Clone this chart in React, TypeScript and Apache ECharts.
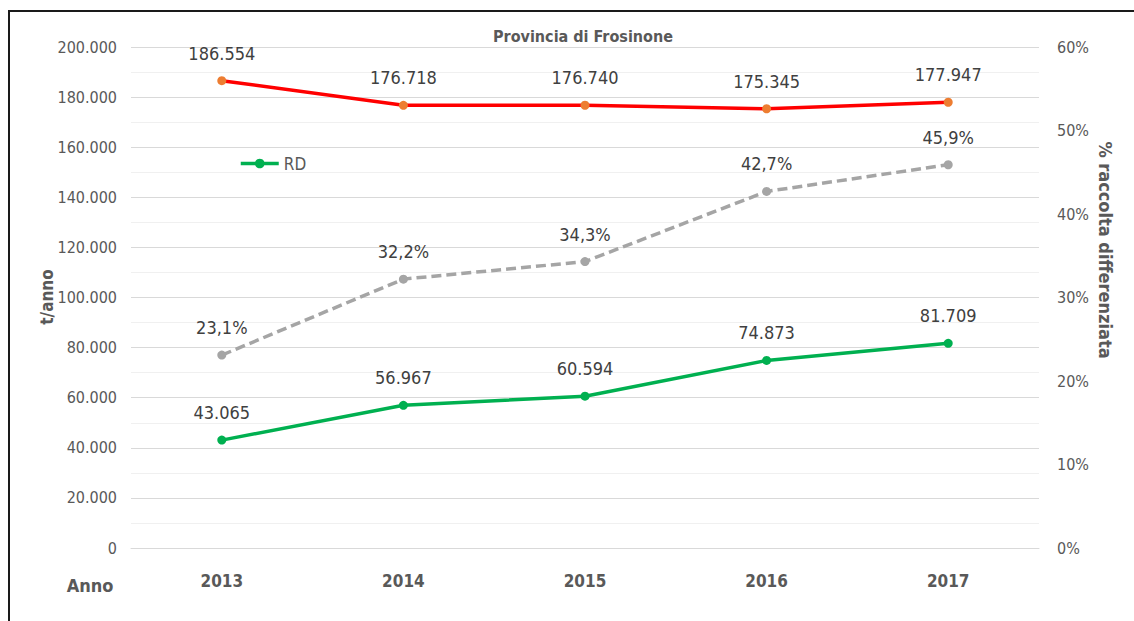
import React, { useEffect, useRef } from "react";
import * as echarts from "echarts";

const years = ["2013", "2014", "2015", "2016", "2017"];
const totale = [186554, 176718, 176740, 175345, 177947];
const rd = [43065, 56967, 60594, 74873, 81709];
const percRd = [23.1, 32.2, 34.3, 42.7, 45.9];

const FONT = "'DejaVu Sans Condensed', 'Liberation Sans Narrow', 'Open Sans', sans-serif";
const TXT = "#595959";
const LBL = "#404040";

const fmtThousands = (v: number) =>
  v === 0 ? "0" : String(Math.round(v)).replace(/\B(?=(\d{3})+(?!\d))/g, ".");

export default function App() {
  const ref = useRef<HTMLDivElement>(null);
  useEffect(() => {
    if (!ref.current) return;
    const chart = echarts.init(ref.current, null, { renderer: "svg" });
    chart.setOption({
      animation: false,
      backgroundColor: "#ffffff",
      title: {
        text: "Provincia di Frosinone",
        left: 578,
        top: 23,
        textAlign: "center",
        textStyle: { fontFamily: FONT, fontSize: 16, fontWeight: "bold", color: TXT },
      },
      legend: {
        data: ["RD"],
        left: 234,
        top: 150,
        itemWidth: 38,
        itemHeight: 12,
        lineStyle: { width: 3.5 },
        textStyle: { fontFamily: FONT, fontSize: 17, color: TXT },
      },
      grid: { left: 131, right: 95, top: 47, bottom: 73 },
      xAxis: {
        type: "category",
        data: years,
        boundaryGap: true,
        axisLine: { show: true, lineStyle: { color: "#d9d9d9", width: 1 } },
        axisTick: { show: false },
        axisLabel: {
          fontFamily: FONT,
          fontSize: 17,
          fontWeight: "bold",
          color: TXT,
          margin: 24,
        },
      },
      yAxis: [
        {
          type: "value",
          min: 0,
          max: 200000,
          interval: 20000,
          axisLine: { show: false },
          axisTick: { show: false },
          axisLabel: {
            fontFamily: FONT,
            fontSize: 16,
            color: TXT,
            margin: 14,
            formatter: (v: number) => fmtThousands(v),
          },
          splitLine: { show: true, lineStyle: { color: "#d9d9d9", width: 1 } },
          minorTick: { show: false, splitNumber: 2 },
          minorSplitLine: { show: true, lineStyle: { color: "#f0f0f0", width: 1 } },
        },
        {
          type: "value",
          min: 0,
          max: 60,
          interval: 10,
          position: "right",
          axisLine: { show: false },
          axisTick: { show: false },
          axisLabel: {
            fontFamily: FONT,
            fontSize: 16,
            color: TXT,
            margin: 18,
            formatter: (v: number) => v + "%",
          },
          splitLine: { show: false },
        },
      ],
      graphic: [
        {
          type: "rect",
          shape: { x: 9, y: 11, width: 1140, height: 640 },
          style: { fill: "none", stroke: "#1a1a1a", lineWidth: 2 },
          silent: true,
        },
        {
          type: "text",
          x: 47,
          y: 297,
          rotation: Math.PI / 2,
          style: {
            text: "t/anno",
            fontFamily: FONT,
            fontSize: 17,
            fontWeight: "bold",
            fill: TXT,
            textAlign: "center",
            textVerticalAlign: "middle",
          },
        },
        {
          type: "text",
          x: 90,
          y: 585,
          style: {
            text: "Anno",
            fontFamily: FONT,
            fontSize: 18,
            fontWeight: "bold",
            fill: TXT,
            textAlign: "center",
            textVerticalAlign: "middle",
          },
        },
        {
          type: "text",
          x: 1105,
          y: 250,
          rotation: -Math.PI / 2,
          style: {
            text: "% raccolta differenziata",
            fontFamily: FONT,
            fontSize: 18,
            fontWeight: "bold",
            fill: TXT,
            textAlign: "center",
            textVerticalAlign: "middle",
          },
        },
      ],
      series: [
        {
          name: "Totale",
          type: "line",
          data: totale,
          yAxisIndex: 0,
          symbol: "circle",
          symbolSize: 9,
          lineStyle: { color: "#ff0000", width: 3.5 },
          itemStyle: { color: "#ed7d31" },
          label: {
            show: true,
            position: "top",
            distance: 14,
            fontFamily: FONT,
            fontSize: 18,
            color: LBL,
            formatter: (p: any) => fmtThousands(p.value),
          },
          z: 3,
        },
        {
          name: "RD",
          type: "line",
          data: rd,
          yAxisIndex: 0,
          symbol: "circle",
          symbolSize: 9,
          lineStyle: { color: "#00b050", width: 3.5 },
          itemStyle: { color: "#00b050" },
          label: {
            show: true,
            position: "top",
            distance: 14,
            fontFamily: FONT,
            fontSize: 18,
            color: LBL,
            formatter: (p: any) => fmtThousands(p.value),
          },
          z: 3,
        },
        {
          name: "% RD",
          type: "line",
          data: percRd,
          yAxisIndex: 1,
          symbol: "circle",
          symbolSize: 9,
          lineStyle: { color: "#a5a5a5", width: 3.5, type: [10, 5] },
          itemStyle: { color: "#a5a5a5" },
          label: {
            show: true,
            position: "top",
            distance: 14,
            fontFamily: FONT,
            fontSize: 18,
            color: LBL,
            formatter: (p: any) => p.value.toFixed(1).replace(".", ",") + "%",
          },
          z: 3,
        },
      ],
    });
    return () => chart.dispose();
  }, []);
  return (
    <div
      ref={ref}
      style={{ position: "fixed", left: 0, top: 0, width: 1134, height: 621 }}
    />
  );
}
